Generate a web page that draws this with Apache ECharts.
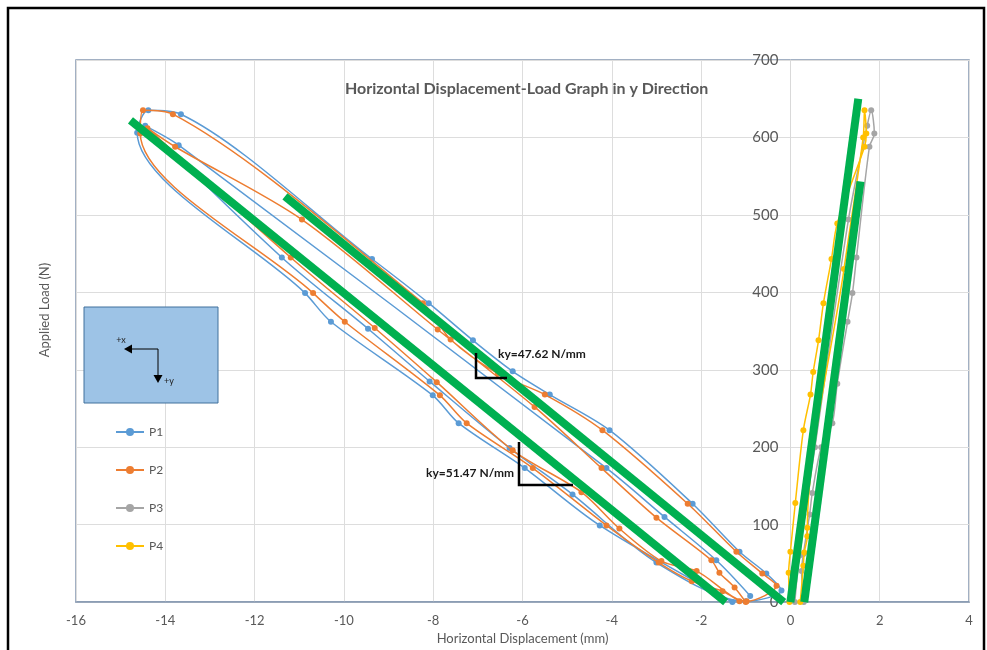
<!DOCTYPE html>
<html><head><meta charset="utf-8">
<script src="https://cdn.jsdelivr.net/npm/echarts@6/dist/echarts.min.js"></script>
<style>html,body{margin:0;padding:0;background:#fff}#c{width:987px;height:650px}</style>
</head><body><div id="c"></div>
<script>
// ---- data ----
const seriesNames = ['P1', 'P2', 'P3', 'P4'];
const P1 = [
  [-1.3,0],[-4.27,99],[-5.95,173],[-7.43,231],[-8.01,267],[-10.29,362],[-10.87,399],[-14.63,606],[-14.38,635],
  [-13.65,630],[-9.37,443],[-8.10,386],[-7.11,338],[-6.22,298],[-5.39,268],[-4.05,222],[-2.19,127],[-1.14,65],[-0.54,37],[-0.2,15],
  [-1.0,1],[-3.0,51],[-4.88,139],[-6.29,199],[-8.08,285],[-9.46,353],[-11.39,445],[-14.45,615],
  [-13.7,590],[-4.12,173],[-2.82,110],[-1.66,54],[-0.9,8]
];
const P2 = [
  [-1.14,1],[-1.52,14],[-2.21,27],[-2.95,51],[-4.12,99],[-5.77,173],[-7.25,231],[-7.85,267],[-9.98,362],[-10.69,399],[-14.56,605],[-14.5,635],
  [-13.83,630],[-8.23,386],[-7.61,339],[-6.55,295],[-5.50,268],[-4.21,222],[-2.30,127],[-1.21,65],[-0.63,37],[-0.31,21],
  [-0.98,1],[-2.10,40],[-2.89,53],[-3.83,95],[-4.68,142],[-6.22,196],[-7.92,284],[-9.31,354],[-11.19,445],[-14.4,612],
  [-13.78,588],[-10.94,494],[-7.90,352],[-5.73,252],[-4.23,173],[-3.0,109],[-1.77,54],[-1.59,38],[-1.25,19],[-1.0,0]
];
const P3 = [
  [0.3,0],[0.25,40],[0.29,62],[0.43,113],[0.49,141],[0.69,200],[0.94,231],[1.05,282],[1.28,362],[1.39,399],[1.48,445],
  [1.77,588],[1.88,605],[1.81,635],[1.72,615],[1.30,494],[0.55,200],[0.2,60],[0.1,0]
];
const P4 = [
  [-0.02,0],[-0.04,38],[0.0,65],[0.11,128],[0.29,222],[0.45,268],[0.51,297],[0.63,338],[0.74,386],[0.92,443],[1.05,489],
  [1.66,588],[1.70,605],[1.66,635],[1.63,600],[1.2,430],[0.38,96],[0.38,85],[0.31,64],[0.29,47],[0.22,0]
];
// fitted stiffness lines (green)
const fitA = [[-14.78,622],[-1.45,0]];
const fitB = [[-11.32,524],[-0.15,0]];
const fitC = [[0.0,0],[1.52,650]];
const fitD = [[0.31,0],[1.57,543]];
const xTicks = {min:-16, max:4, interval:2};
const yTicks = {min:0, max:700, interval:100};
const colors = ['#5B9BD5','#ED7D31','#A5A5A5','#FFC000'];
const titleText = 'Horizontal Displacement-Load Graph in y Direction';
const xName = 'Horizontal Displacement (mm)';
const yName = 'Applied Load (N)';
const annot1 = 'ky=47.62 N/mm';
const annot2 = 'ky=51.47 N/mm';

const FONT = 'Lato, "Open Sans", sans-serif';
const W = 987, GL = 76, GR = 18;
// y axis crosses the x axis at x = 0
const yAxisOffset = -((0 - xTicks.min) / (xTicks.max - xTicks.min)) * (W - GL - GR);

const chart = echarts.init(document.getElementById('c'));
const dataSeries = [P1,P2,P3,P4].map((d,i)=>({
  name: seriesNames[i], type:'line', data:d, smooth:0.3,
  symbol:'circle', symbolSize:6, showSymbol:true,
  itemStyle:{color:colors[i]}, lineStyle:{color:colors[i], width:1.5},
  z: 2+i, animation:false
}));
const greenSeries = [fitA,fitB,fitC,fitD].map(d=>({
  type:'line', data:d, symbol:'none', lineStyle:{color:'#00B050', width:8, cap:'butt'}, z:10, silent:true, animation:false
}));
chart.setOption({
  backgroundColor:'#fff',
  animation:false,
  title:{text:titleText, left:340, top:76, textStyle:{fontFamily:FONT, fontWeight:'bold', fontSize:16, color:'#595959'}},
  grid:{left:GL, right:GR, top:60, bottom:42, show:true, borderColor:'#8497B0', borderWidth:1.5, backgroundColor:'transparent'},
  legend:{data:seriesNames, orient:'vertical', left:110, top:421, itemWidth:28, itemHeight:10, itemGap:26,
    textStyle:{fontFamily:FONT, fontSize:12, color:'#595959'}},
  xAxis:{type:'value', min:xTicks.min, max:xTicks.max, interval:xTicks.interval,
    name:xName, nameLocation:'middle', nameGap:27, nameTextStyle:{fontFamily:FONT, fontSize:13, color:'#595959'},
    axisLine:{onZero:false, lineStyle:{color:'#8497B0', width:1.5}}, axisTick:{show:false},
    axisLabel:{fontFamily:FONT, fontSize:13, color:'#595959', margin:12},
    splitLine:{show:true, lineStyle:{color:'#DDDDDD', width:1}}},
  yAxis:{type:'value', min:yTicks.min, max:yTicks.max, interval:yTicks.interval,
    position:'left', offset:yAxisOffset,
    axisLine:{show:true, onZero:false, lineStyle:{color:'#D9D9D9', width:1}}, axisTick:{show:false},
    axisLabel:{fontFamily:FONT, fontSize:15, color:'#595959', margin:12},
    splitLine:{show:true, lineStyle:{color:'#DDDDDD', width:1}}},
  series: dataSeries.concat(greenSeries),
  graphic:[
    {type:'rect', shape:{x:8, y:8, width:976, height:660}, style:{fill:'none', stroke:'#000', lineWidth:2.5}, z:100, silent:true},
    {type:'text', x:45, y:310, rotation:Math.PI/2, style:{text:yName, fontFamily:FONT, fontSize:13, fill:'#595959', textAlign:'center', textVerticalAlign:'middle'}},
    {type:'rect', shape:{x:84, y:307, width:134, height:96}, style:{fill:'#9DC3E6', stroke:'#41719C', lineWidth:1}, z:50},
    {type:'line', shape:{x1:158, y1:349, x2:131, y2:349}, style:{stroke:'#000', lineWidth:1}, z:51},
    {type:'polygon', shape:{points:[[124,349],[132,344.5],[132,353.5]]}, style:{fill:'#000'}, z:51},
    {type:'line', shape:{x1:158, y1:349, x2:158, y2:375}, style:{stroke:'#000', lineWidth:1}, z:51},
    {type:'polygon', shape:{points:[[158,383],[153.5,375],[162.5,375]]}, style:{fill:'#000'}, z:51},
    {type:'text', x:121, y:340, style:{text:'+x', fontFamily:FONT, fontSize:9, fill:'#222', textAlign:'center', textVerticalAlign:'middle'}, z:52},
    {type:'text', x:169, y:381, style:{text:'+y', fontFamily:FONT, fontSize:9, fill:'#222', textAlign:'center', textVerticalAlign:'middle'}, z:52},
    {type:'polyline', shape:{points:[[476,353],[476,378],[507,378]]}, style:{stroke:'#000', lineWidth:2.5, fill:'none'}, z:60},
    {type:'text', x:498, y:354, style:{text:annot1, fontFamily:FONT, fontWeight:'bold', fontSize:12, fill:'#1a1a1a', textAlign:'left', textVerticalAlign:'middle'}, z:60},
    {type:'polyline', shape:{points:[[519,442],[519,485],[573,485]]}, style:{stroke:'#000', lineWidth:2.5, fill:'none'}, z:60},
    {type:'text', x:514, y:473, style:{text:annot2, fontFamily:FONT, fontWeight:'bold', fontSize:12, fill:'#1a1a1a', textAlign:'right', textVerticalAlign:'middle'}, z:60}
  ]
});
</script></body></html>
